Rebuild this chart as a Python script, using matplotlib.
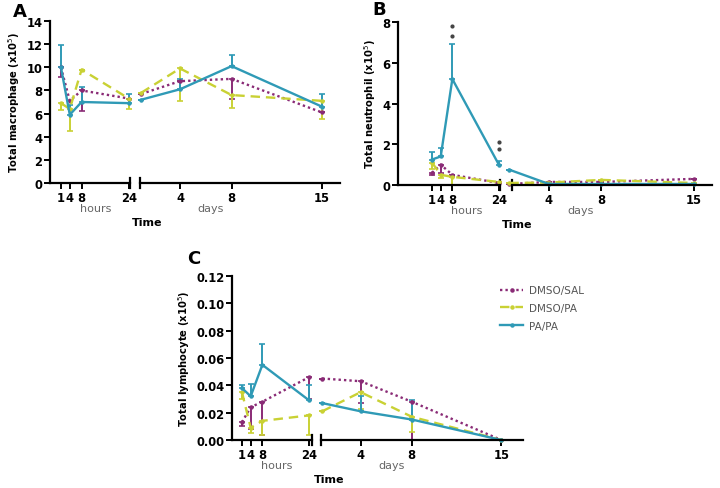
import matplotlib.pyplot as plt
from matplotlib.lines import Line2D
from matplotlib.transforms import blended_transform_factory
import numpy as np

hours = [1, 4, 8, 24]
days = [1, 4, 8, 15]
groups = ['DMSO/SAL', 'DMSO/PA', 'PA/PA']

# panel A - macrophages
mac_sal_h = [10.0, 7.1, 8.0, 7.3]
mac_sal_h_lo = [0.8, 0.0, 1.8, 0.0]
mac_sal_d = [7.7, 8.8, 9.0, 6.1]
mac_sal_d_lo = [0.0, 0.0, 1.7, 0.0]
mac_pa_h = [6.9, 6.4, 9.8, 7.3]
mac_pa_h_lo = [0.6, 1.9, 0.0, 0.9]
mac_pa_d = [7.8, 9.9, 7.6, 7.1]
mac_pa_d_lo = [0.0, 2.8, 1.1, 1.6]
mac_papa_h = [10.0, 5.9, 7.0, 6.9]
mac_papa_h_hi = [1.9, 0.8, 1.3, 0.8]
mac_papa_d = [7.2, 8.1, 10.1, 6.6]
mac_papa_d_hi = [0.0, 0.9, 1.0, 1.1]

# panel B - neutrophils
neu_sal_h = [0.6, 1.0, 0.5, 0.1]
neu_sal_h_lo = [0.1, 0.4, 0.0, 0.0]
neu_sal_d = [0.05, 0.15, 0.15, 0.3]
neu_sal_d_lo = [0.0, 0.0, 0.0, 0.0]
neu_pa_h = [1.1, 0.5, 0.4, 0.15]
neu_pa_h_lo = [0.3, 0.15, 0.4, 0.0]
neu_pa_d = [0.1, 0.12, 0.25, 0.1]
neu_pa_d_lo = [0.0, 0.0, 0.0, 0.0]
neu_papa_h = [1.25, 1.4, 5.2, 1.0]
neu_papa_h_hi = [0.35, 0.4, 1.7, 0.2]
neu_papa_d = [0.75, 0.05, 0.05, 0.05]
neu_papa_d_hi = [0.0, 0.0, 0.0, 0.0]
neu_stars_x = [8, 24]
neu_stars_y = [(7.3, 7.8), (1.75, 2.1)]

# panel C - lymphocytes
lym_sal_h = [0.013, 0.024, 0.028, 0.046]
lym_sal_h_lo = [0.003, 0.016, 0.024, 0.016]
lym_sal_d = [0.045, 0.043, 0.028, 0.0]
lym_sal_d_lo = [0.0, 0.016, 0.028, 0.0]
lym_pa_h = [0.035, 0.009, 0.014, 0.018]
lym_pa_h_lo = [0.005, 0.004, 0.010, 0.014]
lym_pa_d = [0.021, 0.035, 0.017, 0.0]
lym_pa_d_lo = [0.0, 0.012, 0.011, 0.0]
lym_papa_h = [0.038, 0.032, 0.055, 0.029]
lym_papa_h_hi = [0.002, 0.009, 0.015, 0.011]
lym_papa_d = [0.027, 0.021, 0.015, 0.0]
lym_papa_d_hi = [0.0, 0.011, 0.014, 0.0]

colors = ['#8a2b76', '#c9d134', '#2f9ab6']
styles = [(0, (1, 1.3)), (0, (4, 2.5)), '-']
W, H = 720, 489


def px_axes(fig, x0, x1, ytop, ybot):
    return fig.add_axes([x0 / W, 1 - ybot / H, (x1 - x0) / W, (ybot - ytop) / H])


def style_axes(ax, left=True):
    ax.spines['top'].set_visible(False)
    ax.spines['right'].set_visible(False)
    for s in ['left', 'bottom']:
        ax.spines[s].set_linewidth(1.6)
    if not left:
        ax.spines['left'].set_visible(False)
        ax.tick_params(axis='y', left=False, labelleft=False)
    ax.tick_params(width=1.4, length=4, labelsize=8.3, pad=1.5)
    for lab in ax.get_xticklabels() + ax.get_yticklabels():
        lab.set_fontweight('bold')
    ax.patch.set_alpha(0)


def draw_series(ax, x, y, lo, hi, i):
    ax.errorbar(x, y, yerr=[lo, hi], color=colors[i], linestyle=styles[i],
                linewidth=1.7, marker='o', markersize=2.2, capsize=2,
                elinewidth=1.4, capthick=1.2, clip_on=False)


def panel(fig, letter, letter_xy, box_h, box_d, ytop, ybot, xlim_h, xlim_d,
          ylim, yticks, yfmt, ylabel, data_h, data_d, text_y):
    axh = px_axes(fig, box_h[0], box_h[1], ytop, ybot)
    axd = px_axes(fig, box_d[0], box_d[1], ytop, ybot)
    for i in range(3):
        yh, lh, hh = data_h[i]
        yd, ld, hd = data_d[i]
        draw_series(axh, hours, yh, lh, hh, i)
        draw_series(axd, days, yd, ld, hd, i)
    for ax, xl, xt in [(axh, xlim_h, hours), (axd, xlim_d, [4, 8, 15])]:
        ax.set_xlim(*xl)
        ax.set_ylim(*ylim)
        ax.set_xticks(xt)
    axh.set_yticks(yticks)
    axh.set_yticklabels([yfmt.format(v) for v in yticks])
    style_axes(axh)
    style_axes(axd, left=False)
    # axis break marks
    axh.plot([1, 1], [-0.03, 0.03], transform=axh.transAxes, color='black',
             lw=1.6, clip_on=False)
    axd.plot([0, 0], [-0.03, 0.03], transform=axd.transAxes, color='black',
             lw=1.6, clip_on=False)
    axh.set_ylabel(ylabel, fontsize=7.2, fontweight='bold', labelpad=3)
    th = blended_transform_factory(axh.transData, fig.transFigure)
    td = blended_transform_factory(axd.transData, fig.transFigure)
    axh.text(12.8, 1 - text_y / H, 'hours', transform=th, color='#666666',
             fontsize=8, ha='center', va='center')
    axd.text(6.4, 1 - text_y / H, 'days', transform=td, color='#666666',
             fontsize=8, ha='center', va='center')
    fig.text((box_h[1] + 17) / W, 1 - (text_y + 14) / H, 'Time', fontsize=8,
             fontweight='bold', ha='center', va='center')
    fig.text(letter_xy[0] / W, 1 - letter_xy[1] / H, letter, fontsize=13,
             fontweight='bold', ha='left', va='center')
    return axh, axd


fig = plt.figure(figsize=(7.2, 4.89), dpi=100)

panel(fig, 'A', (13, 12), (50, 130), (140, 340), 22, 184, (-2.7, 24.4),
      (0.9, 16.4), (0, 14), np.arange(0, 15, 2), '{:.0f}',
      'Total macrophage (x10$^5$)',
      [(mac_sal_h, mac_sal_h_lo, [0] * 4), (mac_pa_h, mac_pa_h_lo, [0] * 4),
       (mac_papa_h, [0] * 4, mac_papa_h_hi)],
      [(mac_sal_d, mac_sal_d_lo, [0] * 4), (mac_pa_d, mac_pa_d_lo, [0] * 4),
       (mac_papa_d, [0] * 4, mac_papa_d_hi)], 209)

axh_b, axd_b = panel(fig, 'B', (372, 10), (398, 500), (512, 712), 23, 186,
                     (-10.7, 24.4), (1.2, 16.4), (0, 8), np.arange(0, 9, 2),
                     '{:.0f}', 'Total neutrophil (x10$^5$)',
                     [(neu_sal_h, neu_sal_h_lo, [0] * 4), (neu_pa_h, neu_pa_h_lo, [0] * 4),
                      (neu_papa_h, [0] * 4, neu_papa_h_hi)],
                     [(neu_sal_d, neu_sal_d_lo, [0] * 4), (neu_pa_d, neu_pa_d_lo, [0] * 4),
                      (neu_papa_d, [0] * 4, neu_papa_d_hi)], 211)
for sx, sy in zip(neu_stars_x, neu_stars_y):
    axh_b.plot([sx, sx], sy, linestyle='none', marker='o', markersize=2,
               color='#444444', clip_on=False)

axh_c, axd_c = panel(fig, 'C', (187, 259), (232, 312), (321, 523), 277, 441,
                     (-2.4, 25), (0.9, 16.7), (0, 0.12), np.arange(0, 0.121, 0.02),
                     '{:.2f}', 'Total lymphocyte (x10$^5$)',
                     [(lym_sal_h, lym_sal_h_lo, [0] * 4), (lym_pa_h, lym_pa_h_lo, [0] * 4),
                      (lym_papa_h, [0] * 4, lym_papa_h_hi)],
                     [(lym_sal_d, lym_sal_d_lo, [0] * 4), (lym_pa_d, lym_pa_d_lo, [0] * 4),
                      (lym_papa_d, [0] * 4, lym_papa_d_hi)], 466)

handles = [Line2D([0, 1], [0, 0], color=colors[i], linestyle=styles[i],
                  linewidth=1.7, marker='o', markersize=2.2, markevery=[1])
           for i in range(3)]
fig.legend(handles, groups, loc='upper left', bbox_to_anchor=(495 / W, 1 - 281 / H),
           frameon=False, fontsize=7.5, handlelength=2.2, handletextpad=0.6,
           borderpad=0, labelspacing=0.75, labelcolor='#555555')

fig.savefig('out.png', dpi=100)
